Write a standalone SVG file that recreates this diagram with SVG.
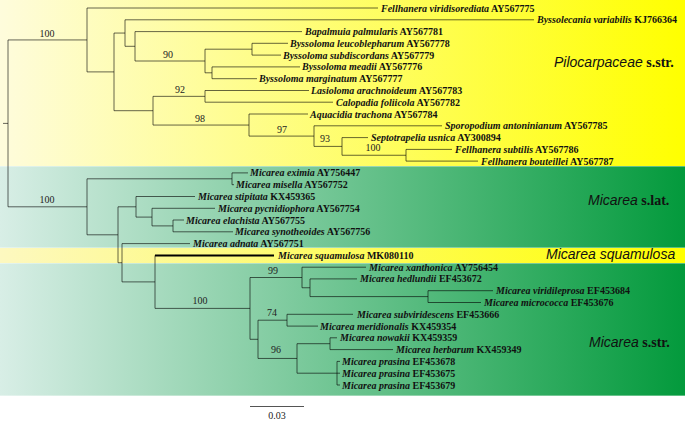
<svg xmlns="http://www.w3.org/2000/svg" width="685" height="423" viewBox="0 0 685 423">
<defs>
<linearGradient id="gy" x1="0" y1="0" x2="1" y2="0"><stop offset="0" stop-color="#fefcdc"/><stop offset="1" stop-color="#ffff00"/></linearGradient>
<linearGradient id="gg" x1="0" y1="0" x2="1" y2="0"><stop offset="0" stop-color="#d8eee6"/><stop offset="1" stop-color="#039a3c"/></linearGradient>
<linearGradient id="gs" x1="0" y1="0" x2="1" y2="0"><stop offset="0" stop-color="#fdf8c0"/><stop offset="1" stop-color="#ffff00"/></linearGradient>
</defs>
<style>
.br{stroke:#000;stroke-opacity:.6;stroke-width:1;fill:none}
.thick{stroke:#000;stroke-width:2;fill:none}
.tx{font-family:"Liberation Serif",serif;font-size:10px;font-weight:bold;fill:#111}
.sp{font-style:italic}
.bs{font-family:"Liberation Serif",serif;font-size:10px;fill:#222;text-anchor:middle}
.cl{font-family:"Liberation Sans",sans-serif;font-size:14px;font-style:italic;fill:#111}
.cs{font-family:"Liberation Serif",serif;font-weight:bold;font-style:normal}
.sep{stroke:#fff;stroke-opacity:.35;stroke-width:1}
</style>
<rect width="685" height="423" fill="#fff"/>
<g id="bands">
<rect x="0" y="0" width="685" height="166" fill="url(#gy)"/>
<rect x="0" y="166" width="685" height="82" fill="url(#gg)"/>
<rect x="0" y="248" width="685" height="15" fill="url(#gs)"/>
<rect x="0" y="263" width="685" height="133" fill="url(#gg)"/>
<line class="sep" x1="0" y1="166.5" x2="685" y2="166.5"/>
<line class="sep" x1="0" y1="247.5" x2="685" y2="247.5"/>
<line class="sep" x1="0" y1="263.5" x2="685" y2="263.5"/>
<line class="sep" x1="0" y1="395.5" x2="685" y2="395.5"/>
</g>
<g id="connectors">
<path class="br" d="M3,123.4H8M8,39.95V206.8M8,39.95H87M87,8V71.9M87,8H378M87,71.9H114M114,33.05V110.7M114,33.05H125M125,19.8V46.3M125,19.8H534M125,46.3H135M135,31.6V61M135,31.6H302M135,61H205M205,49.2V72.8M205,49.2H252M252,43.3V55.1M252,43.3H288M252,55.1H281M205,72.8H212M212,66.9V78.7M212,66.9H300M212,78.7H257M114,110.7H153M153,96.35V125.05M153,96.35H205M205,90.5V102.2M205,90.5H309M205,102.2H333M153,125.05H249M249,114V136.1M249,114H308M249,136.1H314M314,125.8V146.4M314,125.8H442M314,146.4H342M342,137.6V155.25M342,137.6H368M342,155.25H406M406,149.4V161.1M406,149.4H452M406,161.1H478"/>
<path class="br" d="M8,206.8H87M87,178.8V234.8M87,178.8H232M232,172.9V184.7M232,172.9H248M232,184.7H234M87,234.8H118M118,206.8V262.75M118,206.8H136M136,196.5V217.1M136,196.5H195M136,217.1H152M152,208.3V225.9M152,208.3H215M152,225.9H173M173,220V231.8M173,220H184M173,231.8H233M118,262.75H122M122,243.6V281.9M122,243.6H190M122,281.9H155M155,255.4V308.4M155,308.4H250M250,277.5V339.3M250,277.5H302M302,267.2V287.75M302,267.2H366M302,287.75H310M310,278.9V296.6M310,278.9H357M310,296.6H428M428,290.7V302.5M428,290.7H493M428,302.5H481M250,339.3H258M258,320.2V358.45M258,320.2H287M287,314.3V326.1M287,314.3H353M287,326.1H318M258,358.45H297M297,343.7V373.2M297,343.7H330M330,337.8V349.6M330,337.8H337M330,349.6H393M297,373.2H337M337,361.4V385M337,361.4H340M337,373.2H340M337,385H340"/>
<path class="thick" d="M155,255.4H274"/>
</g>
<g id="bootstrap">
<text class="bs" x="47" y="37">100</text>
<text class="bs" x="168" y="58">90</text>
<text class="bs" x="180" y="93">92</text>
<text class="bs" x="200" y="122">98</text>
<text class="bs" x="282" y="133">97</text>
<text class="bs" x="325" y="142">93</text>
<text class="bs" x="373" y="151">100</text>
<text class="bs" x="47" y="203">100</text>
<text class="bs" x="200" y="304">100</text>
<text class="bs" x="273" y="274">99</text>
<text class="bs" x="272" y="316">74</text>
<text class="bs" x="276" y="353">96</text>
</g>
<g id="t00"><text class="tx" x="381" y="11.5"><tspan class="sp">Fellhanera viridisorediata</tspan> AY567775</text></g>
<g id="t01"><text class="tx" x="537" y="23.3"><tspan class="sp">Byssolecania variabilis</tspan> KJ766364</text></g>
<g id="t02"><text class="tx" x="305" y="35.1"><tspan class="sp">Bapalmuia palmularis</tspan> AY567781</text></g>
<g id="t03"><text class="tx" x="290" y="46.8"><tspan class="sp">Byssoloma leucoblepharum</tspan> AY567778</text></g>
<g id="t04"><text class="tx" x="283" y="58.6"><tspan class="sp">Byssoloma subdiscordans</tspan> AY567779</text></g>
<g id="t05"><text class="tx" x="302" y="70.4"><tspan class="sp">Byssoloma meadii</tspan> AY567776</text></g>
<g id="t06"><text class="tx" x="259" y="82.2"><tspan class="sp">Byssoloma marginatum</tspan> AY567777</text></g>
<g id="t07"><text class="tx" x="311" y="94"><tspan class="sp">Lasioloma arachnoideum</tspan> AY567783</text></g>
<g id="t08"><text class="tx" x="336" y="105.7"><tspan class="sp">Calopadia foliicola</tspan> AY567782</text></g>
<g id="t09"><text class="tx" x="310" y="117.5"><tspan class="sp">Aquacidia trachona</tspan> AY567784</text></g>
<g id="t10"><text class="tx" x="445" y="129.3"><tspan class="sp">Sporopodium antoninianum</tspan> AY567785</text></g>
<g id="t11"><text class="tx" x="371" y="141.1"><tspan class="sp">Septotrapelia usnica</tspan> AY300894</text></g>
<g id="t12"><text class="tx" x="455" y="152.9"><tspan class="sp">Fellhanera subtilis</tspan> AY567786</text></g>
<g id="t13"><text class="tx" x="481" y="164.6"><tspan class="sp">Fellhanera bouteillei</tspan> AY567787</text></g>
<g id="t14"><text class="tx" x="250" y="176.4"><tspan class="sp">Micarea eximia</tspan> AY756447</text></g>
<g id="t15"><text class="tx" x="236" y="188.2"><tspan class="sp">Micarea misella</tspan> AY567752</text></g>
<g id="t16"><text class="tx" x="198" y="200"><tspan class="sp">Micarea stipitata</tspan> KX459365</text></g>
<g id="t17"><text class="tx" x="218" y="211.8"><tspan class="sp">Micarea pycnidiophora</tspan> AY567754</text></g>
<g id="t18"><text class="tx" x="186" y="223.5"><tspan class="sp">Micarea elachista</tspan> AY567755</text></g>
<g id="t19"><text class="tx" x="235" y="235.3"><tspan class="sp">Micarea synotheoides</tspan> AY567756</text></g>
<g id="t20"><text class="tx" x="193" y="247.1"><tspan class="sp">Micarea adnata</tspan> AY567751</text></g>
<g id="t21"><text class="tx" x="278" y="258.9"><tspan class="sp">Micarea squamulosa</tspan> MK080110</text></g>
<g id="t22"><text class="tx" x="369" y="270.7"><tspan class="sp">Micarea xanthonica</tspan> AY756454</text></g>
<g id="t23"><text class="tx" x="360" y="282.4"><tspan class="sp">Micarea hedlundii</tspan> EF453672</text></g>
<g id="t24"><text class="tx" x="496" y="294.2"><tspan class="sp">Micarea viridileprosa</tspan> EF453684</text></g>
<g id="t25"><text class="tx" x="484" y="306"><tspan class="sp">Micarea micrococca</tspan> EF453676</text></g>
<g id="t26"><text class="tx" x="357" y="317.8"><tspan class="sp">Micarea subviridescens</tspan> EF453666</text></g>
<g id="t27"><text class="tx" x="320" y="329.6"><tspan class="sp">Micarea meridionalis</tspan> KX459354</text></g>
<g id="t28"><text class="tx" x="340" y="341.3"><tspan class="sp">Micarea nowakii</tspan> KX459359</text></g>
<g id="t29"><text class="tx" x="396" y="353.1"><tspan class="sp">Micarea herbarum</tspan> KX459349</text></g>
<g id="t30"><text class="tx" x="342" y="364.9"><tspan class="sp">Micarea prasina</tspan> EF453678</text></g>
<g id="t31"><text class="tx" x="342" y="376.7"><tspan class="sp">Micarea prasina</tspan> EF453675</text></g>
<g id="t32"><text class="tx" x="342" y="388.5"><tspan class="sp">Micarea prasina</tspan> EF453679</text></g>
<g id="clade-pilocarpaceae"><text class="cl" x="554" y="67">Pilocarpaceae<tspan class="cs"> s.str.</tspan></text></g>
<g id="clade-micarea-slat"><text class="cl" x="588" y="205">Micarea<tspan class="cs"> s.lat.</tspan></text></g>
<g id="clade-micarea-squamulosa"><text class="cl" x="546" y="259">Micarea squamulosa</text></g>
<g id="clade-micarea-sstr"><text class="cl" x="589" y="347">Micarea<tspan class="cs"> s.str.</tspan></text></g>
<g id="scalebar">
<line x1="250" y1="406.5" x2="304" y2="406.5" stroke="#555" stroke-width="1"/>
<text class="bs" x="277" y="419">0.03</text>
</g>
</svg>
